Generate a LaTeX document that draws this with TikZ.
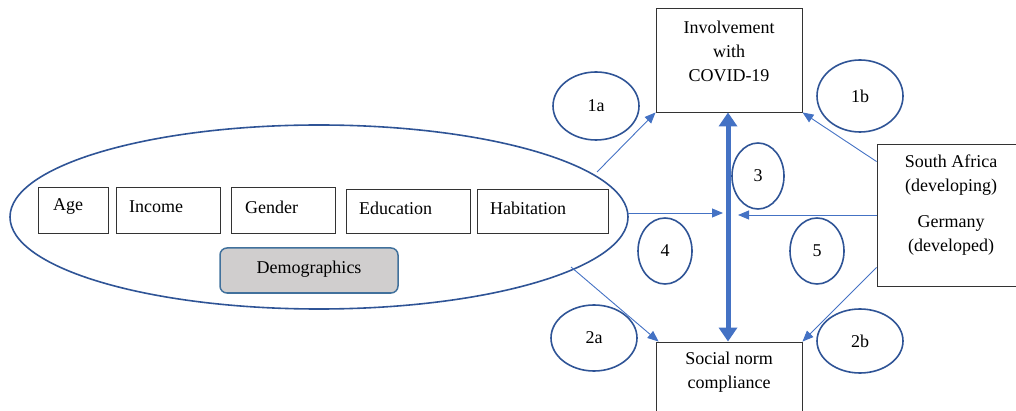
\documentclass[tikz,border=0pt]{standalone}
\usepackage{fontspec}
\setmainfont{Liberation Serif}
\usetikzlibrary{shapes.geometric,arrows.meta}
\definecolor{ovalblue}{HTML}{2F5496}
\definecolor{arrowblue}{HTML}{4472C4}
\definecolor{demogray}{HTML}{D0CECE}
\definecolor{demoborder}{HTML}{41719C}
\tikzset{
  oval/.style={draw=ovalblue, line width=1.6pt, ellipse, inner sep=0pt},
  factor/.style={draw=black!80, line width=0.9pt, rectangle, inner sep=0pt, minimum height=46pt},
  bigbox/.style={draw=black!80, line width=0.9pt, rectangle, inner sep=0pt, fill=white},
  txt/.style={font=\fontsize{18}{24}\selectfont, align=center, inner sep=0pt},
  thin/.style={draw=arrowblue, line width=0.9pt, -{Triangle[length=11pt,width=9pt]}},
  thick/.style={draw=arrowblue, line width=5pt, {Triangle[length=14pt,width=18pt]}-{Triangle[length=14pt,width=18pt]}, shorten <=0pt, shorten >=0pt}
}
\begin{document}
\begin{tikzpicture}[x=1pt,y=-1pt]
\useasboundingbox (0,0) rectangle (1016,411);
\begin{scope}
\clip (0,0) rectangle (1016,411);
% big ellipse
\node[oval, minimum width=618pt, minimum height=184pt] (demo) at (319,217) {};
% factor boxes
\node[factor, minimum width=70pt] (age) at (73,210) {};
\node[txt, anchor=west] (agetxt) at (53,207) {Age};
\node[factor, minimum width=104pt] (inc) at (168,210) {};
\node[txt, anchor=west] (inctxt) at (129,207) {Income};
\node[factor, minimum width=104pt] (gen) at (283,210) {};
\node[txt, anchor=west] (gentxt) at (245,207) {Gender};
\node[factor, minimum width=124pt, minimum height=44pt] (edu) at (408,211) {};
\node[txt, anchor=west] (edutxt) at (359,208) {Education};
\node[factor, minimum width=131pt, minimum height=44pt] (hab) at (542.5,211) {};
\node[txt, anchor=west] (habtxt) at (490,208) {Habitation};
% demographics
\node[draw=demoborder, line width=1.5pt, fill=demogray, rounded corners=7pt, minimum width=178pt, minimum height=45pt, inner sep=0pt] (dem) at (309,270.5) {};
\node[txt] (demtxt) at (309,269) {Demographics};
% right boxes
\node[bigbox, minimum width=146pt, minimum height=104pt] (inv) at (729,60) {};
\node[txt] (invtxt) at (729,51) {Involvement\\with\\COVID-19};
\node[bigbox, minimum width=146pt, minimum height=90pt] (soc) at (729,387) {};
\node[txt] (soctxt) at (729,372) {Social norm\\compliance};
\node[bigbox, minimum width=148pt, minimum height=142pt] (sa) at (951,215) {};
\node[txt] (satxt) at (951,175.5) {South Africa\\(developing)};
\node[txt] (getxt) at (951,235) {Germany\\(developed)};
% label ovals
\node[oval, minimum width=86pt, minimum height=68pt] (o1a) at (596,106) {};
\node[txt] at (o1a) {1a};
\node[oval, minimum width=86pt, minimum height=72pt] (o1b) at (860,96) {};
\node[txt] at (o1b) {1b};
\node[oval, minimum width=52pt, minimum height=66pt] (o3) at (758,176) {};
\node[txt] at (o3) {3};
\node[oval, minimum width=54pt, minimum height=66pt] (o4) at (665,251) {};
\node[txt] at (o4) {4};
\node[oval, minimum width=54pt, minimum height=66pt] (o5) at (817,251) {};
\node[txt] at (o5) {5};
\node[oval, minimum width=86pt, minimum height=66pt] (o2a) at (594,338) {};
\node[txt] at (o2a) {2a};
\node[oval, minimum width=86pt, minimum height=64pt] (o2b) at (860,341) {};
\node[txt] at (o2b) {2b};
% coordinates
\coordinate (c4) at (723,213);
\coordinate (c5) at (738,215);
\coordinate (s1a) at (597,172);
\coordinate (s2a) at (571,267);
\coordinate (s4) at (628,213);
% connectors
\draw[thick] ([xshift=-1pt]inv.south) -- ([xshift=-1pt]soc.north);
\draw[thin] (s1a) -- (inv.south west);
\draw[thin] (s2a) -- ([xshift=3pt]soc.north west);
\draw[thin] (s4) -- (c4);
\draw[thin] (sa.west) -- (c5);
\draw[thin] ([yshift=-18pt]sa.north west) -- (inv.south east);
\draw[thin] ([yshift=19pt]sa.south west) -- (soc.north east);
\end{scope}
\end{tikzpicture}
\end{document}
